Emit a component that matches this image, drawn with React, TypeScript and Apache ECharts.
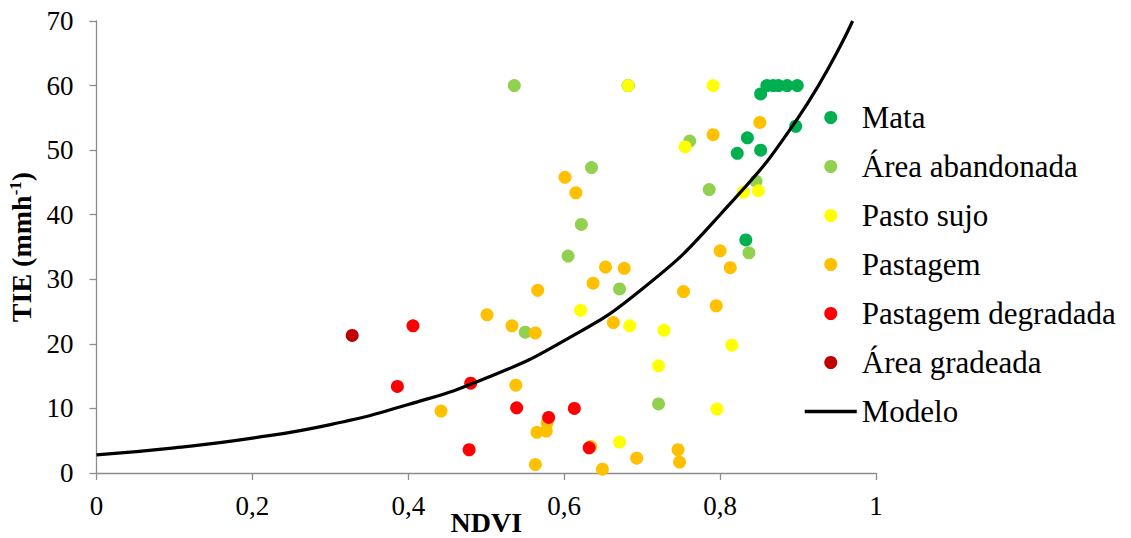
import React, { useEffect, useRef } from "react";
import * as echarts from "echarts";

const seriesNames = [
  "Mata",
  "Área abandonada",
  "Pasto sujo",
  "Pastagem",
  "Pastagem degradada",
  "Área gradeada",
];
const seriesColors = ["#00B050", "#92D050", "#FFFF00", "#FFC000", "#FF0000", "#C00000"];

const mata: [number, number][] = [
  [0.682, 60], [0.86, 60], [0.868, 60], [0.875, 60], [0.886, 60], [0.899, 60],
  [0.852, 58.7], [0.897, 53.7], [0.835, 51.9], [0.822, 49.5], [0.852, 50.0], [0.833, 36.1],
];
const areaAbandonada: [number, number][] = [
  [0.536, 60], [0.635, 47.3], [0.622, 38.5], [0.605, 33.6], [0.671, 28.5], [0.55, 21.8],
  [0.761, 51.4], [0.786, 43.9], [0.846, 45.2], [0.837, 34.1], [0.721, 10.7],
];
const pastoSujo: [number, number][] = [
  [0.682, 60], [0.791, 60], [0.755, 50.5], [0.83, 43.5], [0.849, 43.7], [0.621, 25.2],
  [0.684, 22.8], [0.728, 22.1], [0.815, 19.8], [0.721, 16.6], [0.796, 9.9], [0.671, 4.8],
];
const pastagem: [number, number][] = [
  [0.601, 45.8], [0.615, 43.4], [0.653, 31.9], [0.677, 31.7], [0.637, 29.4], [0.566, 28.3],
  [0.8, 34.4], [0.813, 31.8], [0.753, 28.1], [0.533, 22.8], [0.563, 21.7], [0.663, 23.3],
  [0.795, 25.9], [0.501, 24.5], [0.538, 13.6], [0.442, 9.6], [0.578, 7.8], [0.565, 6.3],
  [0.577, 6.5], [0.563, 1.3], [0.634, 4.1], [0.649, 0.6], [0.693, 2.3], [0.746, 3.6],
  [0.748, 1.7], [0.851, 54.3], [0.791, 52.4],
];
const pastagemDegradada: [number, number][] = [
  [0.406, 22.8], [0.386, 13.4], [0.48, 13.9], [0.539, 10.1], [0.58, 8.6], [0.613, 10.0],
  [0.478, 3.6], [0.632, 3.9],
];
const areaGradeada: [number, number][] = [[0.328, 21.3]];

const modeloX = [0, 0.1, 0.2, 0.3, 0.4, 0.5, 0.6, 0.7, 0.8, 0.9, 0.97];
const modeloY = [2.8, 3.9, 5.4, 7.5, 10.6, 14.7, 20.5, 28.5, 40, 55, 70];

const xTicks = [0, 0.2, 0.4, 0.6, 0.8, 1];
const yTicks = [0, 10, 20, 30, 40, 50, 60, 70];

export default function App() {
  const ref = useRef<HTMLDivElement>(null);
  useEffect(() => {
    document.body.style.margin = "0";
    if (!ref.current) return;
    const chart = echarts.init(ref.current, undefined, { renderer: "svg" });
    const scatterData = [mata, areaAbandonada, pastoSujo, pastagem, pastagemDegradada, areaGradeada];
    const font = "'Liberation Serif', 'Times New Roman', serif";
    const axisColor = "#8c8c8c";
    chart.setOption({
      animation: false,
      textStyle: { fontFamily: font },
      grid: { left: 96.5, right: 255, top: 21, bottom: 65, containLabel: false, outerBoundsMode: "none" },
      xAxis: {
        type: "value",
        min: xTicks[0],
        max: xTicks[xTicks.length - 1],
        interval: 0.2,
        name: "NDVI",
        nameLocation: "middle",
        nameMoveOverlap: false,
        nameGap: 35,
        nameTextStyle: { fontFamily: font, fontSize: 28, fontWeight: "bold", color: "#000" },
        axisLine: { lineStyle: { color: axisColor, width: 1.3 } },
        axisTick: { show: true, length: 7, lineStyle: { color: axisColor, width: 1.3 } },
        axisLabel: {
          fontFamily: font,
          fontSize: 27,
          color: "#000",
          margin: 19,
          formatter: (v: number) => String(Math.round(v * 10) / 10).replace(".", ","),
        },
        splitLine: { show: false },
      },
      yAxis: {
        type: "value",
        min: yTicks[0],
        max: yTicks[yTicks.length - 1],
        interval: 10,
        name: "{a|TIE (mmh}{s|-1}{a|)}",
        nameLocation: "middle",
        nameGap: 58,
        nameRotate: 90,
        nameTextStyle: {
          rich: {
            a: { fontFamily: font, fontSize: 28, fontWeight: "bold", color: "#000" },
            s: { fontFamily: font, fontSize: 17, fontWeight: "bold", color: "#000", verticalAlign: "top", padding: [0, 0, 12, 0] },
          },
        },
        axisLine: { show: true, lineStyle: { color: axisColor, width: 1.3 } },
        axisTick: { show: true, length: 7, lineStyle: { color: axisColor, width: 1.3 } },
        axisLabel: { fontFamily: font, fontSize: 27, color: "#000", margin: 23 },
        splitLine: { show: false },
      },
      legend: {
        orient: "vertical",
        left: 803,
        top: 102,
        padding: 0,
        itemWidth: 52,
        itemHeight: 13,
        itemGap: 18,
        textStyle: { fontFamily: font, fontSize: 31, color: "#000", lineHeight: 31 },
        data: [
          ...seriesNames.map((n) => ({ name: n, icon: "circle" })),
          { name: "Modelo", itemStyle: { opacity: 0 }, lineStyle: { width: 3.5, color: "#000" } },
        ],
      },
      series: [
        ...seriesNames.map((n, i) => ({
          name: n,
          type: "scatter",
          symbol: "circle",
          symbolSize: 13,
          itemStyle: { color: seriesColors[i], opacity: 1 },
          data: scatterData[i],
          z: 3 + i,
        })),
        {
          name: "Modelo",
          type: "line",
          smooth: true,
          showSymbol: false,
          symbol: "none",
          lineStyle: { color: "#000", width: 3.2 },
          itemStyle: { color: "#000" },
          data: modeloX.map((x, i) => [x, modeloY[i]]),
          z: 10,
        },
      ],
    });
    return () => chart.dispose();
  }, []);
  return <div ref={ref} style={{ width: 1131, height: 538 }} />;
}
